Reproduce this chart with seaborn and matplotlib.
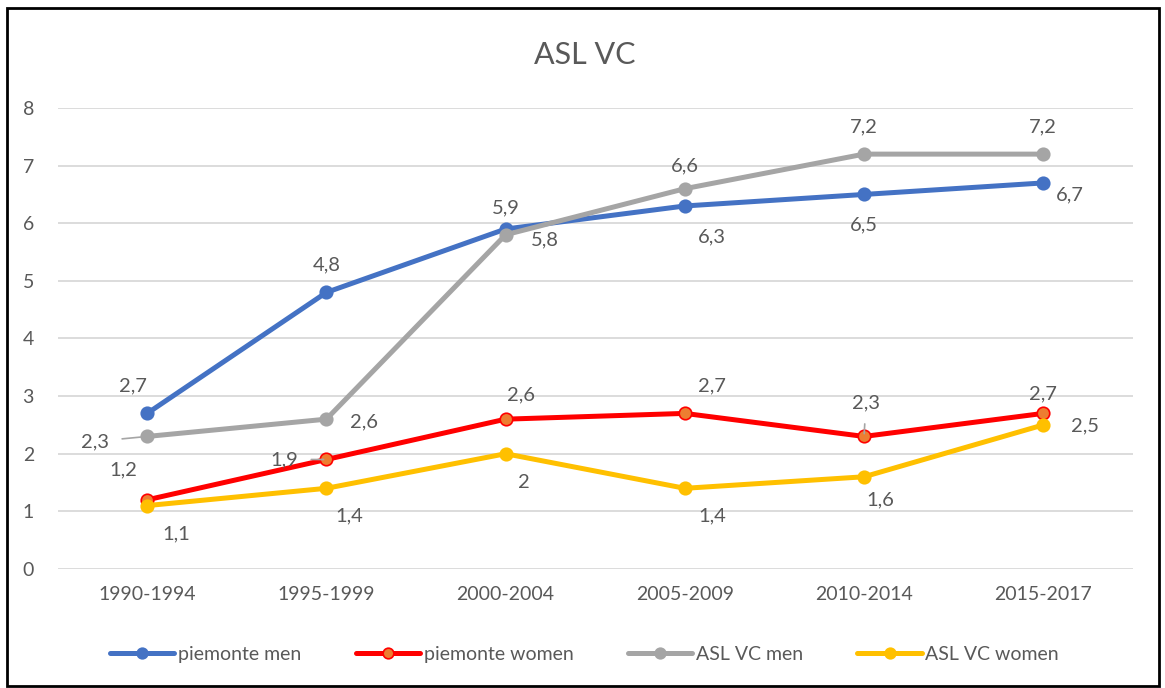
import matplotlib
matplotlib.use("Agg")
import matplotlib.pyplot as plt
import seaborn as sns
import pandas as pd
from matplotlib.patches import Rectangle

periods = ["1990-1994", "1995-1999", "2000-2004", "2005-2009", "2010-2014", "2015-2017"]
piemonte_men = [2.7, 4.8, 5.9, 6.3, 6.5, 6.7]
piemonte_women = [1.2, 1.9, 2.6, 2.7, 2.3, 2.7]
asl_men = [2.3, 2.6, 5.8, 6.6, 7.2, 7.2]
asl_women = [1.1, 1.4, 2.0, 1.4, 1.6, 2.5]
series_names = ["piemonte men", "piemonte women", "ASL VC men", "ASL VC women"]

sns.set_style("white")
plt.rcParams["font.family"] = ["Lato", "DejaVu Sans"]
txt = "#595959"

fig = plt.figure(figsize=(11.65, 6.88), dpi=100)
ax = fig.add_axes([0.0494, 0.173, 0.923, 0.670])

series = [piemonte_men, piemonte_women, asl_men, asl_women]
styles = [
    dict(color="#4472C4", mfc="#4472C4", mec="#4472C4"),
    dict(color="#FF0000", mfc="#ED7D31", mec="#FF0000"),
    dict(color="#A5A5A5", mfc="#A5A5A5", mec="#A5A5A5"),
    dict(color="#FFC000", mfc="#FFC000", mec="#FFC000"),
]
# label offsets in pixels (dx, dy) and leader-line flags
offsets = [
    [(-14, 28), (0, 28), (0, 21), (27, -31), (0, -30), (27, -12)],
    [(-24, 30), (-42, 0), (15, 24), (27, 28), (2, 34), (0, 20)],
    [(-52, -5), (38, -3), (39, -5), (0, 23), (0, 27), (0, 27)],
    [(29, -28), (23, -28), (18, -29), (27, -28), (16, -23), (42, -1)],
]
leaders = {(1, 1), (1, 4), (2, 0)}

for i, (name, vals) in enumerate(zip(series_names, series)):
    df = pd.DataFrame({"period": periods, "value": vals})
    sns.lineplot(data=df, x="period", y="value", ax=ax, label=name, color=styles[i]["color"],
                 linewidth=3.6, marker="o", markersize=9, markerfacecolor=styles[i]["mfc"],
                 markeredgecolor=styles[i]["mec"], markeredgewidth=1.2, sort=False)
    for j, v in enumerate(vals):
        dx, dy = offsets[i][j]
        lab = f"{v:g}".replace(".", ",")
        kw = {}
        if (i, j) in leaders:
            kw["arrowprops"] = dict(arrowstyle="-", color="#A5A5A5", lw=1.2, shrinkA=7, shrinkB=2)
        ax.annotate(lab, (j, v), xytext=(dx, dy), textcoords="offset pixels",
                    ha="center", va="center", fontsize=14.5, color=txt, **kw)

ax.set_xlim(-0.5, 5.5)
ax.set_ylim(0, 8)
ax.set_yticks(range(0, 9))
ax.grid(axis="y", color="#D9D9D9", linewidth=1.3)
ax.set_axisbelow(True)
for s in ax.spines.values():
    s.set_visible(False)
ax.tick_params(axis="both", length=0, labelsize=14, labelcolor=txt)
ax.tick_params(axis="y", pad=17)
ax.tick_params(axis="x", pad=12)
ax.set_xlabel("")
ax.set_ylabel("")

fig.text(0.502, 0.92, "ASL VC", ha="center", va="center", fontsize=22, color=txt)

ax.legend(loc="center", bbox_to_anchor=(0.49, -0.185), ncol=4, frameon=False,
          fontsize=14, handlelength=3.3, columnspacing=2.8, handletextpad=0.2,
          labelcolor=txt, markerscale=0.85)

fig.patches.append(Rectangle((0.006, 0.003), 0.989, 0.985, transform=fig.transFigure,
                             fill=False, edgecolor="black", linewidth=2))

fig.savefig("out.png", dpi=100)
